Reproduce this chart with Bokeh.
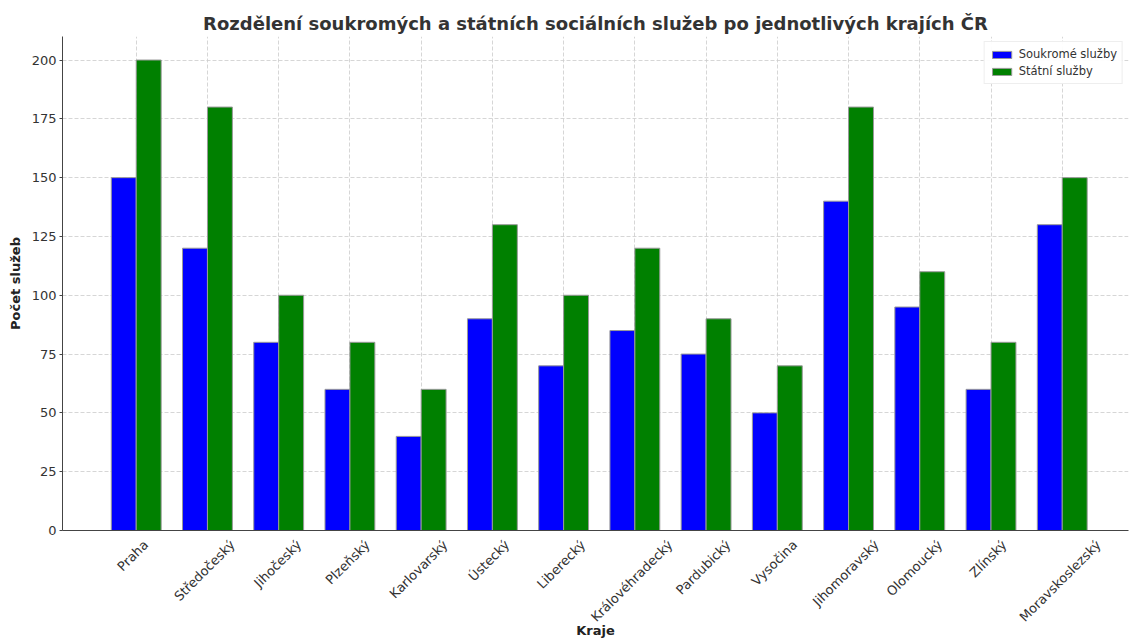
from math import pi
from bokeh.plotting import figure
from bokeh.models import ColumnDataSource, FixedTicker, Range1d, Legend, LegendItem
from bokeh.embed import file_html
from bokeh.resources import INLINE

regions = ["Praha", "Středočeský", "Jihočeský", "Plzeňský", "Karlovarský", "Ústecký",
           "Liberecký", "Královéhradecký", "Pardubický", "Vysočina", "Jihomoravský",
           "Olomoucký", "Zlínský", "Moravskoslezský"]
private = [150, 120, 80, 60, 40, 90, 70, 85, 75, 50, 140, 95, 60, 130]
public = [200, 180, 100, 80, 60, 130, 100, 120, 90, 70, 180, 110, 80, 150]
y_ticks = [0, 25, 50, 75, 100, 125, 150, 175, 200]

W = 0.35
X0, X1 = -1.035, 13.93
WIDTH, HEIGHT = 1129, 641
BL, BR, BT, BB = 62, 1, 36, 111
TICK_FS = 13

idx = list(range(len(regions)))
src = ColumnDataSource(dict(
    x=idx,
    xb=[i - W / 2 for i in idx],
    xg=[i + W / 2 for i in idx],
    private=private,
    public=public,
))

# rough DejaVu Sans advance widths (em) to centre rotated labels on their tick
NARROW = set("iljíIt")
MID = set("rfř")
def text_em(s):
    w = 0
    for c in s:
        if c in NARROW:
            w += 0.30
        elif c in MID:
            w += 0.42
        elif c.isupper():
            w += 0.72
        else:
            w += 0.61
    return w

px_per_unit = (WIDTH - BL - BR) / (X1 - X0)
label_ticks = [round(i + (text_em(r) * TICK_FS * 0.354 - 4) / px_per_unit, 4)
               for i, r in zip(idx, regions)]

FONT = "DejaVu Sans"
p = figure(width=WIDTH, height=HEIGHT, output_backend="svg", toolbar_location=None,
           x_range=Range1d(X0, X1), y_range=Range1d(0, 210))
p.min_border_left = BL
p.min_border_right = BR
p.min_border_top = BT
p.min_border_bottom = BB
p.outline_line_color = None

r1 = p.vbar(x="xb", top="private", width=W, source=src, fill_color="blue",
            line_color="#999999", line_width=1)
r2 = p.vbar(x="xg", top="public", width=W, source=src, fill_color="green",
            line_color="#999999", line_width=1)

p.title.text = "Rozdělení soukromých a státních sociálních služeb po jednotlivých krajích ČR"
p.title.align = "center"
p.title.text_font = FONT
p.title.text_font_size = "18px"
p.title.text_font_style = "bold"
p.title.text_color = "#333333"
p.title.standoff = 6

p.xaxis.ticker = FixedTicker(ticks=label_ticks)
p.xaxis.major_label_overrides = {t: r for t, r in zip(label_ticks, regions)}
p.xaxis.major_label_orientation = pi / 4
p.xgrid.ticker = FixedTicker(ticks=idx)
p.yaxis.ticker = FixedTicker(ticks=y_ticks)
p.xaxis.axis_label = "Kraje"
p.yaxis.axis_label = "Počet služeb"
for ax in (p.xaxis, p.yaxis):
    ax.axis_label_text_font = FONT
    ax.axis_label_text_font_style = "bold"
    ax.axis_label_text_font_size = "13px"
    ax.axis_label_text_color = "#222222"
    ax.major_label_text_font = FONT
    ax.major_label_text_font_size = f"{TICK_FS}px"
    ax.major_label_text_color = "#333333"
    ax.axis_line_color = "#444444"
    ax.minor_tick_line_color = None
p.xaxis.major_tick_line_color = None
p.xaxis.major_label_standoff = 6
p.xaxis.axis_label_standoff = -10
p.yaxis.major_tick_line_color = "#444444"
p.yaxis.major_tick_in = 0
p.yaxis.major_tick_out = 3
p.yaxis.major_label_standoff = 3
p.yaxis.axis_label_standoff = 6

p.grid.grid_line_color = "#cccccc"
p.grid.grid_line_dash = "4 2"
p.grid.grid_line_width = 0.8

legend = Legend(items=[LegendItem(label="Soukromé služby", renderers=[r1]),
                       LegendItem(label="Státní služby", renderers=[r2])],
                location="top_right")
legend.label_text_font = FONT
legend.label_text_font_size = "11.5px"
legend.label_text_color = "#333333"
legend.glyph_width = 24
legend.glyph_height = 9
legend.spacing = 3
legend.padding = 5
legend.margin = 5
legend.label_height = 12
legend.border_line_color = "#dddddd"
p.add_layout(legend)

open("out.html", "w").write(file_html(p, INLINE))
